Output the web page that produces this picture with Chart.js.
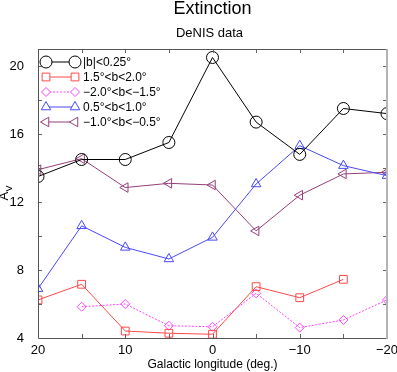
<!DOCTYPE html>
<html>
<head>
<meta charset="utf-8">
<script src="https://cdn.jsdelivr.net/npm/chart.js@4.4.1/dist/chart.umd.min.js"></script>
<style>
  body { margin: 0; background: #fff; }
</style>
</head>
<body>
<canvas id="grafico" width="397" height="372"></canvas>
<script>
// longitudes (deg.) and A_v values, null = no point
var longitudes = [20, 15, 10, 5, 0, -5, -10, -15, -20];
var serieCentro = [13.5, 14.5, 14.5, 15.5, 20.5, 16.7, 14.8, 17.5, 17.2];
var serieNorteAlta = [6.24, 7.16, 4.41, 4.28, 4.22, 7.02, 6.37, 7.45, null];
var serieSurAlta = [null, 5.84, 6.0, 4.72, 4.66, 6.63, 4.61, 5.06, 6.24];
var serieNorteMedia = [6.9, 10.6, 9.33, 8.65, 9.92, 13.06, 15.31, 14.14, 13.55];
var serieSurMedia = [13.9, 14.55, 12.85, 13.1, 13.0, 10.3, 12.4, 13.65, 13.75];

var etiquetas = ['|b|<0.25°', '1.5°<b<2.0°', '\u22122.0°<b<\u22121.5°', '0.5°<b<1.0°', '\u22121.0°<b<\u22120.5°'];
var xTicks = [20, 10, 0, -10, -20];
var yTicks = [4, 8, 12, 16, 20];

var fuente = '"Liberation Sans", Arial, sans-serif';

function puntos(valores) {
  return longitudes.map(function (l, i) {
    return { x: l, y: valores[i] };
  });
}

var estilos = [
  { color: '#000000', punto: 'circle', radio: 6, rot: 0, dash: [] },
  { color: '#ff4848', punto: 'rect', radio: 5.5, rot: 0, dash: [] },
  { color: '#ff44ff', punto: 'rectRot', radio: 4.5, rot: 0, dash: [2, 1.5] },
  { color: '#4848ff', punto: 'triangle', radio: 5.5, rot: 0, dash: [] },
  { color: '#963f78', punto: 'triangle', radio: 5.5, rot: -90, dash: [] }
];
var series = [serieCentro, serieNorteAlta, serieSurAlta, serieNorteMedia, serieSurMedia];

var datasets = series.map(function (s, i) {
  var e = estilos[i];
  return {
    label: etiquetas[i],
    data: puntos(s),
    borderColor: e.color,
    backgroundColor: 'rgba(255,255,255,0)',
    borderWidth: 1,
    borderDash: e.dash,
    pointStyle: e.punto,
    pointRadius: e.radio,
    pointRotation: e.rot,
    pointBorderWidth: 1,
    pointBackgroundColor: 'rgba(255,255,255,0)',
    pointBorderColor: e.color,
    tension: 0,
    fill: false
  };
});

// frame, inward ticks, titles and the legend
var decorado = {
  id: 'decorado',
  afterDraw: function (chart) {
    var ctx = chart.ctx;
    var a = chart.chartArea;
    var sx = chart.scales.x;
    var sy = chart.scales.y;
    ctx.save();

    // ticks
    ctx.strokeStyle = '#666';
    ctx.lineWidth = 1;
    for (var v = -20; v <= 20; v += 5) {
      var px = Math.round(sx.getPixelForValue(v)) + 0.5;
      ctx.beginPath();
      ctx.moveTo(px, a.bottom); ctx.lineTo(px, a.bottom - 4);
      ctx.moveTo(px, a.top); ctx.lineTo(px, a.top + 4);
      ctx.stroke();
    }
    for (var w = 6; w <= 20; w += 2) {
      var py = Math.round(sy.getPixelForValue(w)) + 0.5;
      ctx.beginPath();
      ctx.moveTo(a.left, py); ctx.lineTo(a.left + 4, py);
      ctx.moveTo(a.right, py); ctx.lineTo(a.right - 4, py);
      ctx.stroke();
    }

    // frame
    ctx.strokeStyle = '#555';
    ctx.beginPath();
    ctx.moveTo(a.right, a.top + 0.5);
    ctx.lineTo(a.left + 0.5, a.top + 0.5);
    ctx.lineTo(a.left + 0.5, a.bottom + 0.5);
    ctx.lineTo(a.right, a.bottom + 0.5);
    ctx.stroke();
    ctx.strokeStyle = '#b4b4b4';
    ctx.lineWidth = 2;
    ctx.beginPath();
    ctx.moveTo(a.right, a.top);
    ctx.lineTo(a.right, a.bottom + 1);
    ctx.stroke();

    // titles
    var cx = (a.left + a.right) / 2;
    ctx.fillStyle = '#000';
    ctx.textAlign = 'center';
    ctx.textBaseline = 'alphabetic';
    ctx.font = '18px ' + fuente;
    ctx.fillText('Extinction', cx, 14);
    ctx.font = '13px ' + fuente;
    ctx.fillText('DeNIS data', cx - 3, 37);
    ctx.font = '12px ' + fuente;
    ctx.fillText('Galactic longitude (deg.)', cx, 368);

    // A_v rotated
    ctx.save();
    ctx.translate(8, (a.top + a.bottom) / 2);
    ctx.rotate(-Math.PI / 2);
    ctx.textAlign = 'left';
    ctx.font = '13px ' + fuente;
    ctx.fillText('A', -7, 0);
    ctx.font = '9px ' + fuente;
    ctx.fillText('V', 2, 4);
    ctx.restore();

    // legend
    ctx.textAlign = 'left';
    ctx.textBaseline = 'middle';
    ctx.font = '12px ' + fuente;
    for (var i = 0; i < datasets.length; i++) {
      var d = datasets[i];
      var ly = 62 + i * 15;
      ctx.strokeStyle = d.borderColor;
      ctx.lineWidth = 1;
      ctx.setLineDash(d.borderDash);
      ctx.beginPath();
      ctx.moveTo(46, ly); ctx.lineTo(75, ly);
      ctx.stroke();
      ctx.setLineDash([]);
      var op = { pointStyle: d.pointStyle, radius: d.pointRadius, rotation: d.pointRotation, borderWidth: 1 };
      ctx.fillStyle = '#fff';
      Chart.helpers.drawPoint(ctx, op, 46, ly);
      Chart.helpers.drawPoint(ctx, op, 75, ly);
      ctx.fillStyle = '#000';
      ctx.fillText(d.label, 83, ly + 1);
    }
    ctx.restore();
  }
};

var ctx = document.getElementById('grafico').getContext('2d');
var miGrafico = new Chart(ctx, {
  type: 'line',
  data: { datasets: datasets },
  options: {
    responsive: false,
    animation: false,
    devicePixelRatio: 1,
    layout: { padding: { top: 49, left: 0, right: 10, bottom: 0 } },
    plugins: {
      legend: { display: false },
      title: { display: false },
      tooltip: { enabled: false }
    },
    scales: {
      x: {
        type: 'linear',
        reverse: true,
        min: -20,
        max: 20,
        grid: { display: false },
        border: { display: false },
        afterBuildTicks: function (scale) {
          scale.ticks = xTicks.map(function (v) { return { value: v }; });
        },
        afterFit: function (scale) {
          scale.height = 34;
          scale.paddingLeft = 0;
          scale.paddingRight = 0;
        },
        ticks: {
          padding: -3,
          maxRotation: 0,
          autoSkip: false,
          color: '#000',
          font: { family: fuente, size: 13 },
          callback: function (v) { return String(v).replace('-', '\u2212'); }
        }
      },
      y: {
        type: 'linear',
        min: 4,
        max: 21,
        grid: { display: false },
        border: { display: false },
        afterBuildTicks: function (scale) {
          scale.ticks = yTicks.map(function (v) { return { value: v }; });
        },
        afterFit: function (scale) {
          scale.width = 38;
          scale.paddingTop = 0;
          scale.paddingBottom = 0;
        },
        ticks: {
          padding: 6,
          color: '#000',
          font: { family: fuente, size: 13 }
        }
      }
    }
  },
  plugins: [decorado]
});
</script>
</body>
</html>
